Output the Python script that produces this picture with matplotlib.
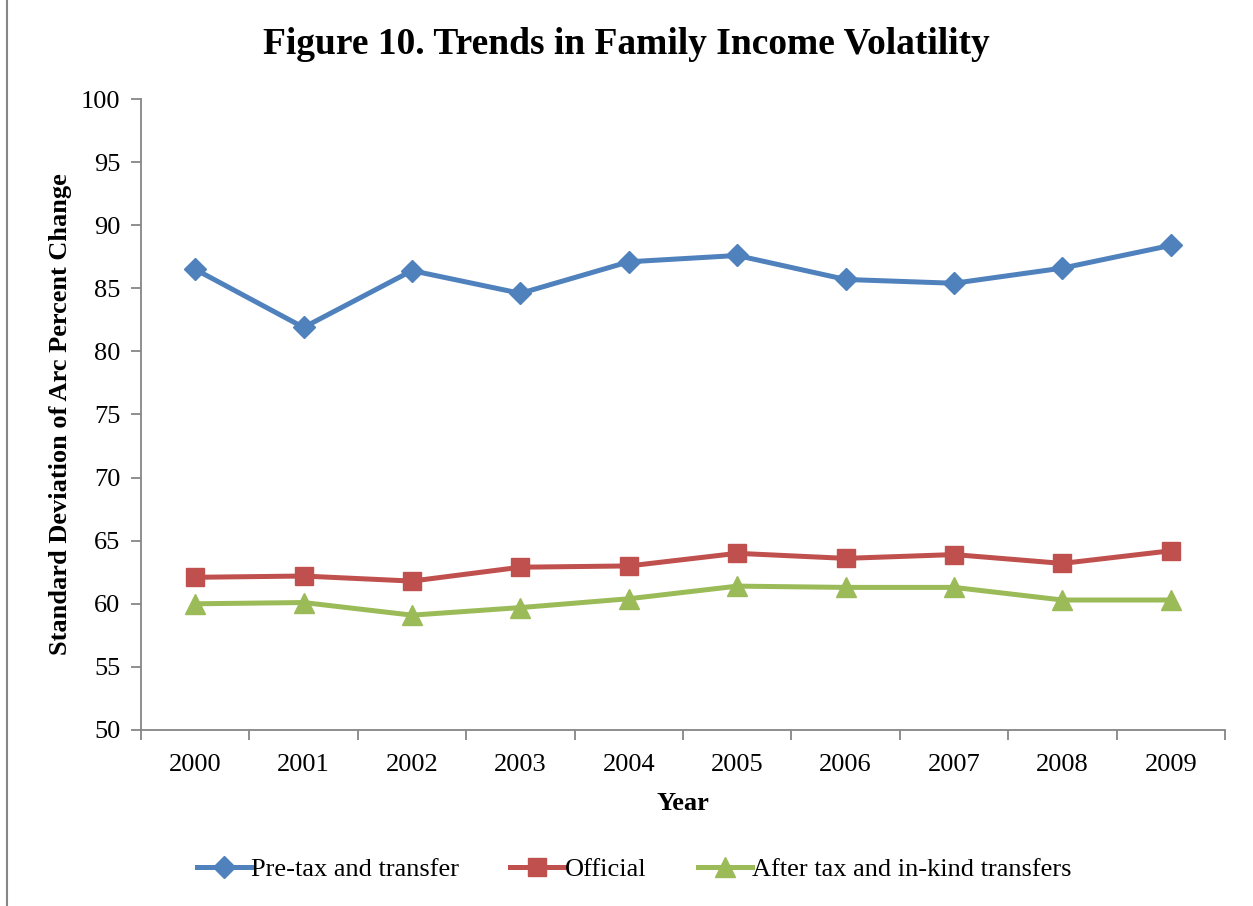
import matplotlib
matplotlib.use("Agg")
import matplotlib.pyplot as plt
from matplotlib.lines import Line2D

years = ["2000", "2001", "2002", "2003", "2004", "2005", "2006", "2007", "2008", "2009"]
pretax = [86.5, 81.9, 86.4, 84.6, 87.1, 87.6, 85.7, 85.4, 86.6, 88.4]
official = [62.1, 62.2, 61.8, 62.9, 63.0, 64.0, 63.6, 63.9, 63.2, 64.2]
aftertax = [60.0, 60.1, 59.1, 59.7, 60.4, 61.4, 61.3, 61.3, 60.3, 60.3]
yticks = [50, 55, 60, 65, 70, 75, 80, 85, 90, 95, 100]

plt.rcParams['font.family'] = ['Liberation Serif', 'DejaVu Serif']

W, H = 1253, 906
fig = plt.figure(figsize=(W/100, H/100), dpi=100)
ax = fig.add_axes([141/W, 1-730/H, (1225-141)/W, (730-99)/H])

x = list(range(len(years)))
ax.plot(x, pretax, color='#4F81BD', lw=3.6, marker='D', ms=11, label='Pre-tax and transfer')
ax.plot(x, official, color='#C0504D', lw=3.6, marker='s', ms=13.5, label='Official')
ax.plot(x, aftertax, color='#9BBB59', lw=3.6, marker='^', ms=14, label='After tax and in-kind transfers')

ax.set_xlim(-0.5, len(years)-0.5)
ax.set_ylim(50, 100)
ax.set_yticks(yticks)
ax.set_yticklabels([str(v) for v in yticks], fontsize=19)
ax.set_xticks([i-0.5 for i in range(len(years)+1)])
ax.set_xticklabels([])
ax.set_xticks(x, minor=True)
ax.set_xticklabels(years, minor=True, fontsize=19)
ax.tick_params(axis='x', which='minor', length=0, pad=17)
ax.tick_params(axis='x', which='major', length=7, color='#868686', width=1.3, direction='out')
ax.tick_params(axis='y', length=7, color='#868686', width=1.3, direction='out', pad=8)
for s in ['top', 'right']:
    ax.spines[s].set_visible(False)
for s in ['left', 'bottom']:
    ax.spines[s].set_color('#868686')
    ax.spines[s].set_linewidth(1.3)

ax.set_xlabel('Year', fontsize=19, fontweight='bold', labelpad=12)
ax.set_ylabel('Standard Deviation of Arc Percent Change', fontsize=19, fontweight='bold', labelpad=6)
fig.suptitle('Figure 10. Trends in Family Income Volatility', fontsize=27, fontweight='bold', y=1-45/H, va='center')

leg = fig.legend(loc='center', bbox_to_anchor=(634/W, 1-869/H), ncol=3, frameon=False,
                 fontsize=19, handlelength=2.05, handletextpad=0.0, columnspacing=1.95)

fig.add_artist(Line2D([7/W, 7/W], [0, 1], color='#868686', lw=1.5, transform=fig.transFigure))

fig.savefig('out.png', dpi=100)
